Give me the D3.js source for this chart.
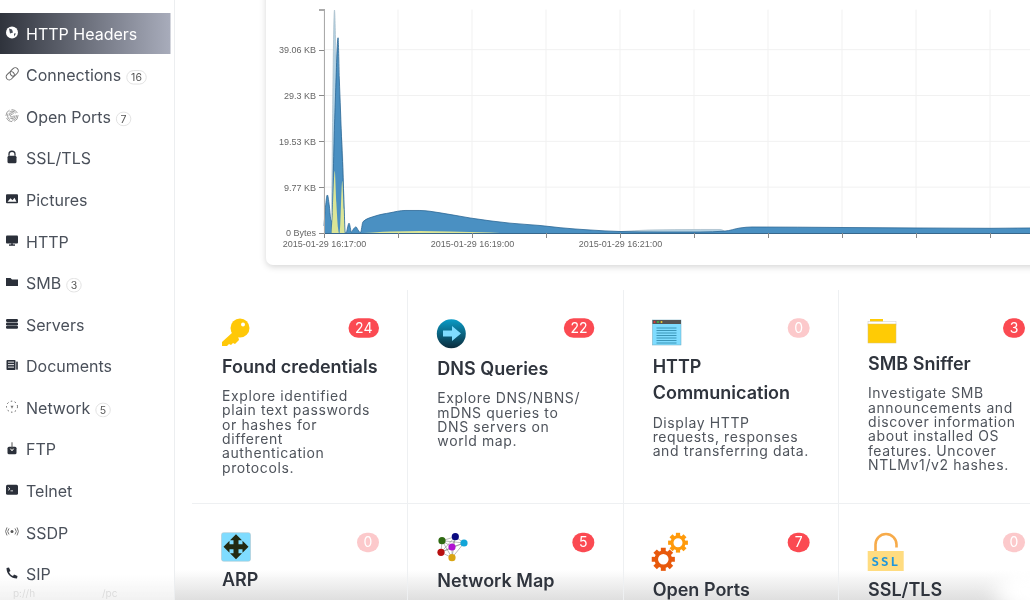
<!DOCTYPE html>
<html>
<head>
    <meta charset="utf-8">
    <title>HTTP Headers</title>
    <script src="https://d3js.org/d3.v7.min.js"></script>
    <style>
        html, body { margin: 0; padding: 0; background: #fff; overflow: hidden; }
        svg { display: block; filter: blur(0.45px); }
        text { font-family: Inter, "Noto Sans", sans-serif; }
        .axis text { font-family: "Liberation Sans", Arial, sans-serif; font-size: 9px; fill: #666; }
        .axis path, .axis line { stroke: #888; shape-rendering: crispEdges; }
        .axis .domain { stroke: #aaa; stroke-width: 1.5px; }
        .axis.bottom .domain { stroke: #38678c; stroke-width: 1px; }
    </style>
</head>
<body>
<svg id="page" width="1030" height="600"></svg>

<script>
    // sidebar
    var navLabels = ["HTTP Headers", "Connections", "Open Ports", "SSL/TLS", "Pictures", "HTTP", "SMB",
        "Servers", "Documents", "Network", "FTP", "Telnet", "SSDP", "SIP"];
    var navBadges = [null, 16, 7, null, null, null, 3, null, null, 5, null, null, null, null];

    // chart, [seconds after 16:17:00, KB]
    var blueSeries = [[0, 1.5], [1.2, 5.5], [2.7, 8.1], [4.2, 6], [5.4, 3.0], [6.2, 2.4], [6.6, 0], [7.1, 7], [8.1, 19],
        [9.3, 29], [11.4, 41.6], [12.4, 33], [13.4, 26], [14.4, 18.8], [15.2, 14], [16.4, 5], [17.2, 0], [17.8, 0],
        [20.3, 2.1], [22.3, 0.2], [23.9, 0.85],
        [25.9, 1.3], [27.6, 0.65], [29.6, 0.1], [31.6, 2.4], [41.4, 3.6], [53.5, 4.3], [65.7, 4.8], [77.8, 4.8],
        [94.1, 4.3], [118.4, 3.2], [150.8, 2.1], [175.1, 1.6], [191.4, 1.13], [215.7, 0.64], [240, 0.32],
        [272.4, 0.21], [304.9, 0.21], [325, 0.4], [337.3, 1.07], [347, 1.28], [420.8, 1.17], [480.8, 1.07],
        [540.8, 1.0], [572.4, 1.07]];
    var paleSeries = [[6.1, 0], [8.5, 47.5], [9.7, 38], [10.9, 30], [13, 24], [15, 17], [17, 0], [215, 0], [240, 0.3],
        [264, 0.64], [305, 0.75], [321, 0.75], [327, 0]];
    var yellowSeries = [[6.1, 0], [7.0, 4], [8.7, 13.2], [10.0, 6.5], [11.4, 1], [12.1, 0], [12.7, 0], [14.8, 11.1],
        [16.0, 5], [17, 0], [31.6, 0], [53.5, 0.32], [77.8, 0.43], [102, 0.32], [134.6, 0.1], [142.7, 0]];
    var yTickValues = [0, 9.77, 19.53, 29.3, 39.06];
    var yTickLabels = ["0 Bytes", "9.77 KB", "19.53 KB", "29.3 KB", "39.06 KB"];
    var xLabelMinutes = [17, 19, 21];

    // cards under the chart
    var cardTitles = [["Found credentials"], ["DNS Queries"], ["HTTP", "Communication"], ["SMB Sniffer"],
        ["ARP"], ["Network Map"], ["Open Ports"], ["SSL/TLS"]];
    var cardCounts = [24, 22, 0, 3, 0, 5, 7, 0];
    var cardTexts = [
        ["Explore identified", "plain text passwords", "or hashes for", "different", "authentication", "protocols."],
        ["Explore DNS/NBNS/", "mDNS queries to", "DNS servers on", "world map."],
        ["Display HTTP", "requests, responses", "and transferring data."],
        ["Investigate SMB", "announcements and", "discover information", "about installed OS", "features. Uncover", "NTLMv1/v2 hashes."],
        [], [], [], []
    ];
    var cardTitleBaselines = [372.7, 375, 372.7, 370, 586, 586.7, 596, 596];

    var svg = d3.select("#page");
    var defs = svg.append("defs");

    var activeGrad = defs.append("linearGradient").attr("id", "activeGrad");
    activeGrad.append("stop").attr("offset", "0%").attr("stop-color", "#2f333c");
    activeGrad.append("stop").attr("offset", "100%").attr("stop-color", "#a8acbb");

    var dnsGrad = defs.append("linearGradient").attr("id", "dnsGrad").attr("x1", 0).attr("y1", 0).attr("x2", 0).attr("y2", 1);
    dnsGrad.append("stop").attr("offset", "0%").attr("stop-color", "#0a9cc7");
    dnsGrad.append("stop").attr("offset", "100%").attr("stop-color", "#0b2c3c");

    var fadeGrad = defs.append("linearGradient").attr("id", "fadeGrad").attr("x1", 0).attr("y1", 0).attr("x2", 0).attr("y2", 1);
    fadeGrad.append("stop").attr("offset", "0%").attr("stop-color", "#ddd").attr("stop-opacity", 0);
    fadeGrad.append("stop").attr("offset", "100%").attr("stop-color", "#ddd").attr("stop-opacity", 0.95);

    var fadeSide = defs.append("linearGradient").attr("id", "fadeSide").attr("x1", 0).attr("y1", 0).attr("x2", 0).attr("y2", 1);
    fadeSide.append("stop").attr("offset", "0%").attr("stop-color", "#f0f0f0").attr("stop-opacity", 0);
    fadeSide.append("stop").attr("offset", "100%").attr("stop-color", "#f0f0f0").attr("stop-opacity", 0.9);

    var blobBlur = defs.append("filter").attr("id", "blobBlur").attr("x", "-50%").attr("y", "-50%").attr("width", "200%").attr("height", "200%");
    blobBlur.append("feGaussianBlur").attr("stdDeviation", 10);

    // ---------- bottom fade, sits behind the content ----------
    svg.append("rect").attr("x", 175).attr("y", 570).attr("width", 855).attr("height", 30).attr("fill", "url(#fadeGrad)");
    svg.append("rect").attr("x", 0).attr("y", 575).attr("width", 175).attr("height", 25).attr("fill", "url(#fadeSide)");
    svg.append("ellipse").attr("cx", 1040).attr("cy", 590).attr("rx", 45).attr("ry", 28).attr("fill", "#fff").attr("filter", "url(#blobBlur)");
    svg.append("text").attr("x", 13).attr("y", 597).attr("font-size", 10).attr("fill", "#dcdcdc").text("p://h");
    svg.append("text").attr("x", 102).attr("y", 597).attr("font-size", 10).attr("fill", "#dcdcdc").text("/pc");

    // ---------- chart card ----------
    svg.append("rect")
        .attr("x", 266).attr("y", -30).attr("width", 820).attr("height", 295).attr("rx", 7)
        .attr("fill", "#fff")
        .style("filter", "drop-shadow(0px 2px 3px rgba(0,0,0,0.16))");

    var t0 = new Date(2015, 0, 29, 16, 17, 0);
    function toDate(sec) { return new Date(t0.getTime() + sec * 1000); }

    var x = d3.scaleTime().domain([t0, toDate(572.4)]).range([324, 1030]);
    var y = d3.scaleLinear().domain([0, 47.6]).range([233, 9.6]);
    var minuteTicks = x.ticks(d3.timeMinute.every(1));

    var chart = svg.append("g");
    chart.append("g").selectAll("line").data(minuteTicks).enter().append("line")
        .attr("x1", function(d) { return x(d); }).attr("x2", function(d) { return x(d); })
        .attr("y1", y.range()[1]).attr("y2", y(0))
        .attr("stroke", "#f1f1f1");
    chart.append("g").selectAll("line").data(yTickValues.slice(1)).enter().append("line")
        .attr("x1", x.range()[0]).attr("x2", x.range()[1])
        .attr("y1", function(d) { return y(d); }).attr("y2", function(d) { return y(d); })
        .attr("stroke", "#f1f1f1");

    var area = d3.area()
        .x(function(d) { return x(toDate(d[0])); })
        .y0(y(0))
        .y1(function(d) { return y(d[1]); })
        .curve(d3.curveMonotoneX);
    var topLine = area.lineY1();

    chart.append("path").attr("d", area(paleSeries)).attr("fill", "#b3d2e4");
    chart.append("path").attr("d", topLine(paleSeries)).attr("fill", "none").attr("stroke", "#a9bfcc").attr("stroke-width", 0.8);
    chart.append("path").attr("d", area(blueSeries)).attr("fill", "#4a90c2");
    chart.append("path").attr("d", topLine(blueSeries)).attr("fill", "none").attr("stroke", "#2b6796").attr("stroke-width", 0.8);
    chart.append("path").attr("d", area(yellowSeries)).attr("fill", "#dbe596");

    var xAxis = d3.axisBottom(x)
        .tickValues(minuteTicks)
        .tickSize(5)
        .tickSizeOuter(0)
        .tickFormat(function(d) {
            return xLabelMinutes.indexOf(d.getMinutes()) >= 0 ? d3.timeFormat("%Y-%m-%d %H:%M:%S")(d) : "";
        });
    chart.append("g").attr("class", "axis bottom").attr("transform", "translate(0," + y(0) + ")").call(xAxis);

    var yAxis = d3.axisLeft(y)
        .tickValues(yTickValues)
        .tickSize(5)
        .tickPadding(3)
        .tickFormat(function(d, i) { return yTickLabels[i]; });
    chart.append("g").attr("class", "axis").attr("transform", "translate(" + x.range()[0] + ",0)").call(yAxis);

    // ---------- sidebar ----------
    var side = svg.append("g");
    side.append("line").attr("x1", 174.5).attr("x2", 174.5).attr("y1", 0).attr("y2", 600).attr("stroke", "#eceef0");
    side.append("rect").attr("x", 0).attr("y", 13).attr("width", 170.5).attr("height", 41).attr("fill", "url(#activeGrad)");

    var navY = d3.scaleLinear().domain([0, 13]).range([34, 574.5]);
    var iconDark = "#2b303a";

    var navIcons = [
        function(g, c) { // globe
            g.append("circle").attr("r", 6).attr("fill", c);
            g.append("path").attr("d", "M-3,-4 L0,-3 L1,0 L-2,1 Z M2,1 L4,1 L2,4 Z").attr("fill", "#444a55");
        },
        function(g, c) { // link
            g.append("g").attr("transform", "rotate(-45) scale(1.4)").selectAll("rect").data([-4, 0]).enter().append("rect")
                .attr("x", function(d) { return d - 1; }).attr("y", -2.2).attr("width", 6.5).attr("height", 4.4).attr("rx", 2.2)
                .attr("fill", "none").attr("stroke", "#666").attr("stroke-width", 0.7);
        },
        function(g, c) { // fingerprint
            g.selectAll("circle").data([1.5, 3, 4.5, 6]).enter().append("circle")
                .attr("r", function(d) { return d; })
                .attr("fill", "none").attr("stroke", "#777").attr("stroke-width", 0.7).attr("stroke-dasharray", "7 2");
        },
        function(g, c) { // lock
            g.append("rect").attr("x", -4.5).attr("y", -1.5).attr("width", 9).attr("height", 7.5).attr("rx", 1.5).attr("fill", c);
            g.append("path").attr("d", "M-3,-1.5 V-3 A3,3 0 0 1 3,-3 V-1.5").attr("fill", "none").attr("stroke", c).attr("stroke-width", 1.3);
        },
        function(g, c) { // picture
            g.append("rect").attr("x", -6).attr("y", -4.5).attr("width", 12).attr("height", 9).attr("rx", 1).attr("fill", c);
            g.append("path").attr("d", "M-4.5,3 L-1.5,-0.5 L0.5,1.5 L2.5,-1 L4.5,3 Z").attr("fill", "#fff");
        },
        function(g, c) { // desktop
            g.append("rect").attr("x", -6).attr("y", -5).attr("width", 12).attr("height", 8).attr("rx", 1).attr("fill", c);
            g.append("rect").attr("x", -3).attr("y", 4).attr("width", 6).attr("height", 1.4).attr("fill", c);
            g.append("rect").attr("x", -1).attr("y", 3).attr("width", 2).attr("height", 1.5).attr("fill", c);
        },
        function(g, c) { // folder
            g.append("path").attr("d", "M-6,-4 H-1.5 L0,-2.5 H6 V4 H-6 Z").attr("fill", c);
        },
        function(g, c) { // servers
            g.selectAll("rect").data([-4.5, -1, 2.2]).enter().append("rect")
                .attr("x", -6).attr("y", function(d) { return d; }).attr("width", 12).attr("height", 2.9).attr("rx", 1.2).attr("fill", c);
        },
        function(g, c) { // documents
            g.append("rect").attr("x", -5.5).attr("y", -5).attr("width", 9).attr("height", 10).attr("rx", 0.8).attr("fill", c);
            g.append("rect").attr("x", 4.2).attr("y", -3.5).attr("width", 1.6).attr("height", 8).attr("fill", c);
            g.append("path").attr("d", "M-4,-3 H2 M-4,-0.5 H2 M-4,2 H2").attr("stroke", "#fff").attr("stroke-width", 0.9);
        },
        function(g, c) { // network
            g.append("circle").attr("r", 5.5).attr("fill", "none").attr("stroke", "#555").attr("stroke-width", 1).attr("stroke-dasharray", "1.5 2.5");
            g.append("path").attr("d", "M-1.5,-1 H1.5 L0,2 Z").attr("fill", "#777");
        },
        function(g, c) { // ftp
            g.append("rect").attr("x", -4.5).attr("y", -1.5).attr("width", 9).attr("height", 7.5).attr("rx", 1.5).attr("fill", c);
            g.append("path").attr("d", "M0,-6 V2 M-2,0 L0,2.5 L2,0").attr("fill", "none").attr("stroke", "#555").attr("stroke-width", 1);
            g.append("path").attr("d", "M-1.5,0.5 L0,2.5 L1.5,0.5").attr("fill", "none").attr("stroke", "#fff").attr("stroke-width", 1);
        },
        function(g, c) { // terminal
            g.append("rect").attr("x", -6).attr("y", -5).attr("width", 12).attr("height", 10).attr("rx", 1.5).attr("fill", c);
            g.append("path").attr("d", "M-4,-2.5 L-2,-1 L-4,0.5 M-1.5,1 H1").attr("fill", "none").attr("stroke", "#fff").attr("stroke-width", 0.8);
        },
        function(g, c) { // ssdp
            g.append("circle").attr("r", 1.5).attr("fill", "#555");
            g.append("path").attr("d", "M-3,-3 A4.5,4.5 0 0 0 -3,3 M3,-3 A4.5,4.5 0 0 1 3,3 M-5,-4 A7,7 0 0 0 -5,4 M5,-4 A7,7 0 0 1 5,4")
                .attr("fill", "none").attr("stroke", "#666").attr("stroke-width", 0.9);
        },
        function(g, c) { // phone
            g.append("path").attr("d", "M-5.5,-5 L-3,-5.5 L-1.5,-2 L-3,-1 C-2,1.5 -0.5,2.5 1,3 L2,1.5 L5.5,3 L5,5.5 C-1,5.5 -5.5,1 -5.5,-5 Z").attr("fill", c);
        }
    ];

    navLabels.forEach(function(label, i) {
        var cy = navY(i);
        var active = i === 0;
        var icon = side.append("g").attr("transform", "translate(12," + (cy - 1.5) + ")");
        navIcons[i](icon, active ? "#fff" : iconDark);

        var txt = side.append("text")
            .attr("x", 26).attr("y", cy + 5.7)
            .attr("font-size", 16)
            .attr("fill", active ? "#fff" : "#4a505a")
            .text(label);

        if (navBadges[i] !== null) {
            var bx = 26 + txt.node().getComputedTextLength() + 5.5;
            var wd = String(navBadges[i]).length > 1 ? 19.5 : 14.5;
            side.append("rect").attr("x", bx).attr("y", cy - 5).attr("width", wd).attr("height", 13.5).attr("rx", 6.75)
                .attr("fill", "#fff").attr("stroke", "#e2e2e2");
            side.append("text").attr("x", bx + wd / 2).attr("y", cy + 5.7).attr("text-anchor", "middle")
                .attr("font-size", 10.5).attr("fill", "#555").text(navBadges[i]);
        }
    });

    // ---------- cards ----------
    var cards = svg.append("g");
    var colX = d3.scaleLinear().domain([0, 3]).range([222, 868]);
    var badgeRight = d3.scaleLinear().domain([0, 3]).range([379, 1025]);
    var rowTop = d3.scaleOrdinal().domain([0, 1]).range([318.3, 532.7]);

    [407.5, 623.5, 838.5].forEach(function(lx) {
        cards.append("line").attr("x1", lx).attr("x2", lx).attr("y1", 290).attr("y2", 600).attr("stroke", "#eef0f2");
    });
    cards.append("line").attr("x1", 192).attr("x2", 1030).attr("y1", 503.5).attr("y2", 503.5).attr("stroke", "#eef0f2");

    var cardIcons = [
        function(g) { // key
            g.append("circle").attr("cx", 240).attr("cy", 328).attr("r", 9.5).attr("fill", "#ffc808");
            g.append("circle").attr("cx", 243).attr("cy", 324.5).attr("r", 2).attr("fill", "#fff");
            g.append("path").attr("d", "M233,332 L222,342 V346 H227 L229,344 L231,345 L233,343 L235,344 L239,340 L238,336 Z").attr("fill", "#ffc808");
        },
        function(g) { // dns
            g.append("circle").attr("cx", 451.3).attr("cy", 333.7).attr("r", 14.5).attr("fill", "url(#dnsGrad)");
            g.append("path").attr("d", "M443,330.5 H452 V326 L461,333.5 L452,341 V336.5 H443 Z").attr("fill", "#7fdcff");
        },
        function(g) { // http window
            g.append("rect").attr("x", 652.5).attr("y", 320).attr("width", 28.5).attr("height", 25).attr("fill", "#7fdcff").attr("stroke", "#6aa9bf").attr("stroke-width", 0.5);
            g.append("rect").attr("x", 652.5).attr("y", 320).attr("width", 28.5).attr("height", 4).attr("fill", "#555");
            g.append("circle").attr("cx", 654.5).attr("cy", 322).attr("r", 1).attr("fill", "#e33");
            g.append("circle").attr("cx", 658).attr("cy", 322).attr("r", 1).attr("fill", "#4b4");
            g.append("circle").attr("cx", 661.5).attr("cy", 322).attr("r", 1).attr("fill", "#ec3");
            g.selectAll("line.row").data(d3.range(328, 344, 2.5)).enter().append("line")
                .attr("x1", 656.5).attr("x2", 676.5)
                .attr("y1", function(d) { return d; }).attr("y2", function(d) { return d; })
                .attr("stroke", "#3b96b8").attr("stroke-width", 1);
        },
        function(g) { // folder
            g.append("rect").attr("x", 870).attr("y", 319).attr("width", 13).attr("height", 6).attr("fill", "#ffcb05");
            g.append("rect").attr("x", 868).attr("y", 321.5).attr("width", 28).attr("height", 4).attr("fill", "#fff").attr("stroke", "#ccc").attr("stroke-width", 0.5);
            g.append("rect").attr("x", 868).attr("y", 324).attr("width", 28).attr("height", 19).attr("fill", "#ffcb05").attr("stroke", "#d8c070").attr("stroke-width", 0.5);
        },
        function(g) { // arp
            g.append("rect").attr("x", 221.5).attr("y", 532.7).attr("width", 29).attr("height", 28.5).attr("rx", 2).attr("fill", "#7fdcff").attr("stroke", "#b0c8d0").attr("stroke-width", 0.6);
            g.append("path").attr("transform", "translate(236,546.8)")
                .attr("d", "M0,-12.5 L6,-6.5 H2.5 V-2.5 H6.5 V-6 L12.5,0 L6.5,6 V2.5 H2.5 V6.5 H6 L0,12.5 L-6,6.5 H-2.5 V2.5 H-6.5 V6 L-12.5,0 L-6.5,-6 V-2.5 H-2.5 V-6.5 H-6 Z")
                .attr("fill", "#222a12");
        },
        function(g) { // network map
            var nodes = [[442, 540.7, "#2f6a12"], [455.3, 536.7, "#0b0b80"], [464, 543, "#12a5d8"], [452, 547, "#b010d0"], [441, 552.3, "#b80f0f"], [452, 557.7, "#d9a514"]];
            nodes.forEach(function(a, i) {
                nodes.slice(i + 1).forEach(function(b) {
                    g.append("line").attr("x1", a[0]).attr("y1", a[1]).attr("x2", b[0]).attr("y2", b[1]).attr("stroke", "#555").attr("stroke-width", 0.4);
                });
            });
            g.selectAll("circle").data(nodes).enter().append("circle")
                .attr("cx", function(d) { return d[0]; }).attr("cy", function(d) { return d[1]; }).attr("r", 3.6)
                .attr("fill", function(d) { return d[2]; });
        },
        function(g) { // gears
            [[663.3, 559.3, 7, 3.5, "#e8590c"], [678, 542.7, 6, 3, "#ff9a0a"]].forEach(function(d) {
                var gear = g.append("g").attr("transform", "translate(" + d[0] + "," + d[1] + ")");
                gear.append("circle").attr("r", d[2]).attr("fill", "none").attr("stroke", d[4]).attr("stroke-width", d[3]);
                gear.selectAll("rect").data(d3.range(0, 360, 45)).enter().append("rect")
                    .attr("x", -d[3] * 0.7).attr("y", -d[2] - d[3] * 1.3).attr("width", d[3] * 1.4).attr("height", d[3] * 1.2)
                    .attr("fill", d[4])
                    .attr("transform", function(a) { return "rotate(" + a + ")"; });
            });
        },
        function(g) { // ssl
            g.append("path").attr("d", "M875.5,552 V544.5 A10.5,10.5 0 0 1 896.5,544.5 V547.5").attr("fill", "none").attr("stroke", "#f7ab4a").attr("stroke-width", 2.6);
            g.append("rect").attr("x", 867.7).attr("y", 551).attr("width", 36).attr("height", 20).attr("fill", "#ffdc80");
            g.append("text").attr("x", 885.7).attr("y", 566).attr("text-anchor", "middle")
                .style("font-family", "'DejaVu Sans Mono', monospace").attr("font-weight", 700).attr("font-size", 12.5)
                .attr("letter-spacing", "2px").attr("fill", "#1e96dc").text("SSL");
        }
    ];

    cardTitles.forEach(function(title, i) {
        var col = i % 4;
        var row = Math.floor(i / 4);
        var g = cards.append("g");
        cardIcons[i](g);

        var baseline = cardTitleBaselines[i];
        title.forEach(function(line, k) {
            g.append("text").attr("x", colX(col)).attr("y", baseline + k * 26.6)
                .attr("font-size", 18).attr("font-weight", 600).attr("fill", "#2f343d").text(line);
        });

        var descTop = baseline + (title.length - 1) * 26.6 + 28.3;
        cardTexts[i].forEach(function(line, k) {
            g.append("text").attr("x", colX(col)).attr("y", descTop + k * 14.35)
                .attr("font-size", 14).attr("letter-spacing", "0.6px").attr("fill", "#4f545c").text(line);
        });

        var count = cardCounts[i];
        var w = String(count).length > 1 ? 30.5 : 22;
        var right = badgeRight(col);
        var top = rowTop(row);
        g.append("rect").attr("x", right - w).attr("y", top).attr("width", w).attr("height", 19.5).attr("rx", 9.75)
            .attr("fill", count === 0 ? "#fcc9cb" : "#fb4a52");
        g.append("text").attr("x", right - w / 2).attr("y", top + 14.7).attr("text-anchor", "middle")
            .attr("font-size", 14).attr("fill", "#fff").text(count);
    });
</script>
</body>
</html>
